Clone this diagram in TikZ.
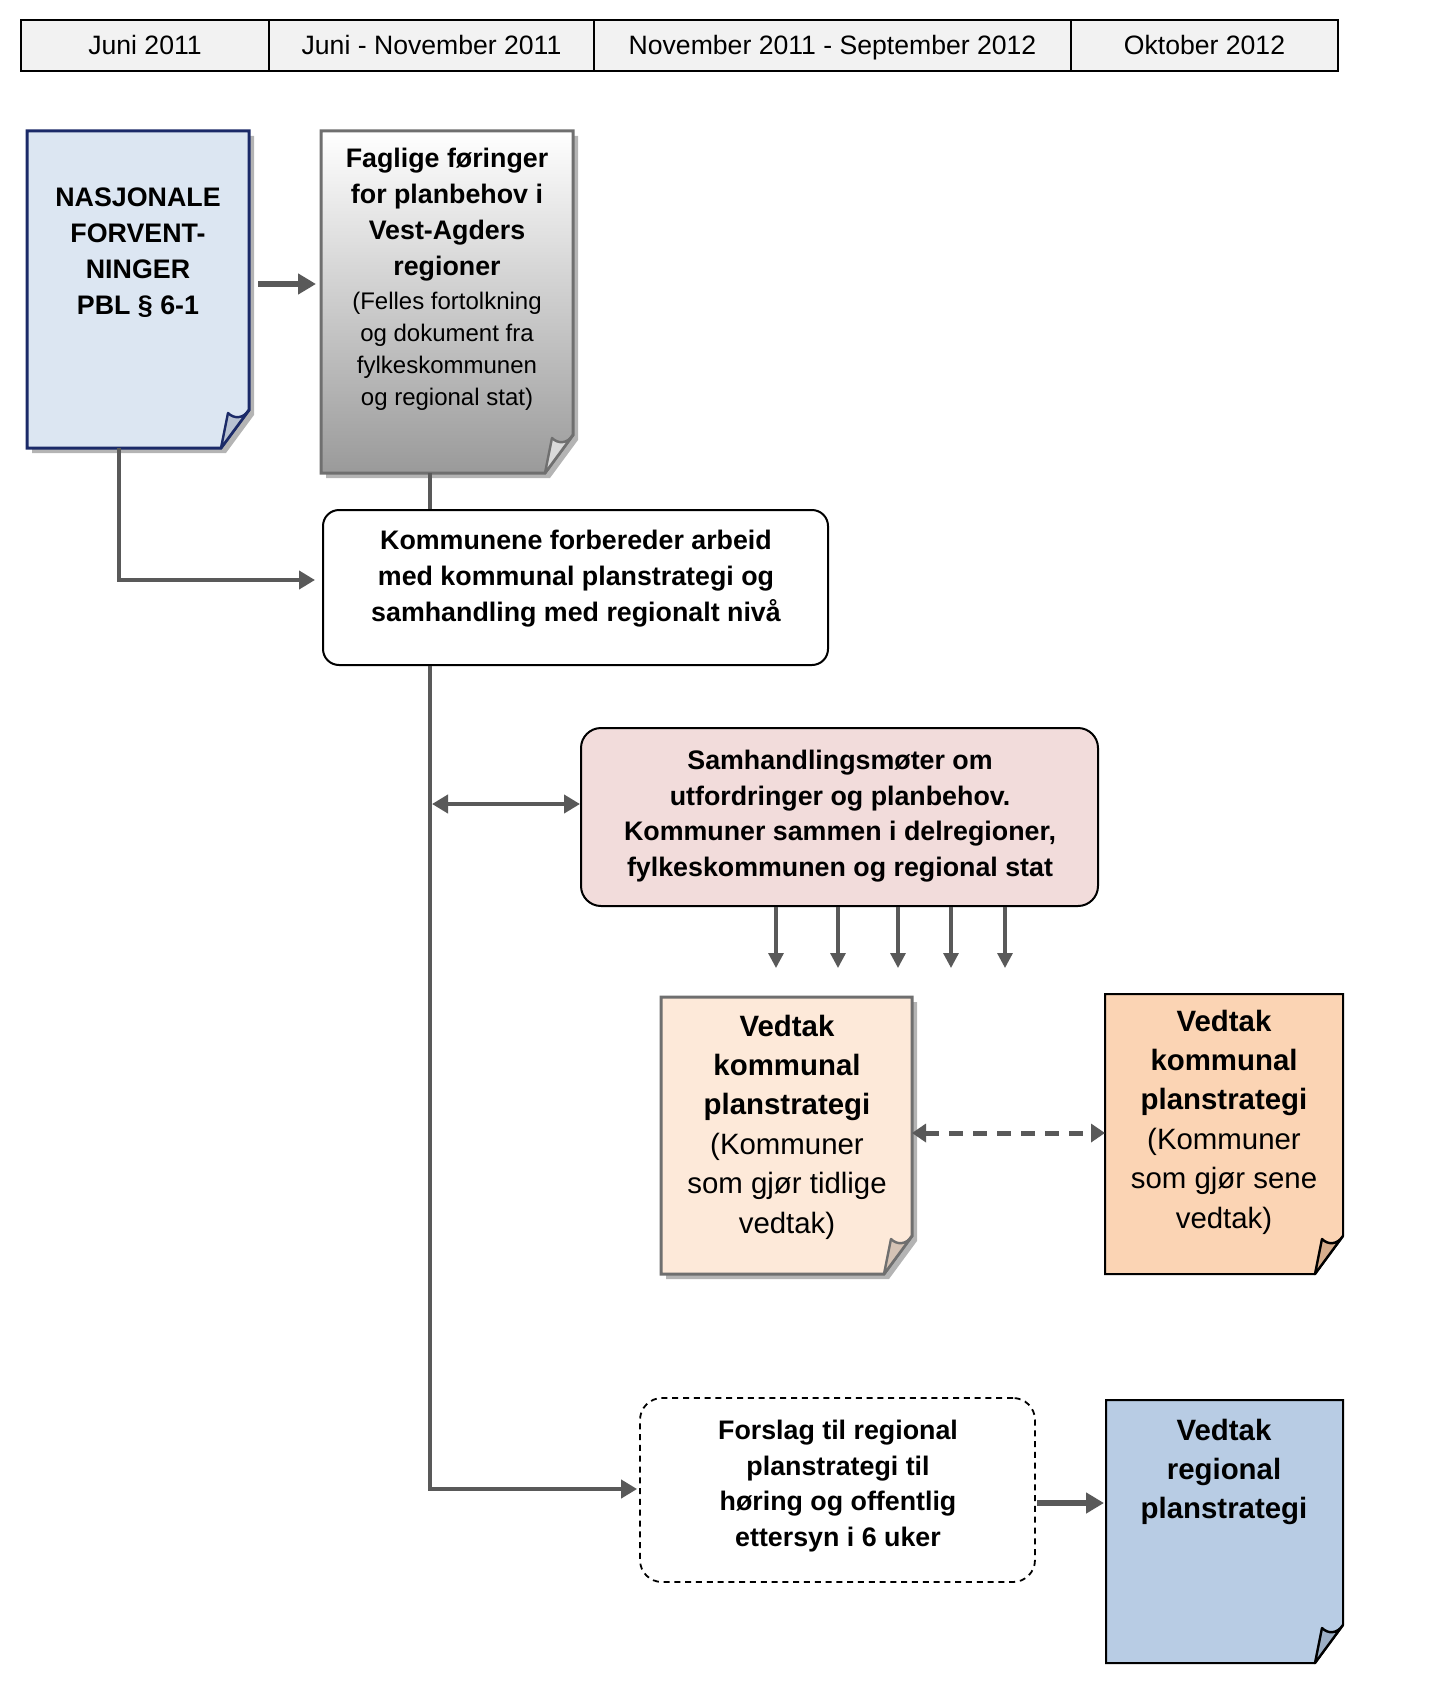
\documentclass[tikz,border=0pt]{standalone}
\usepackage{fontspec}
\setmainfont{Liberation Sans}
\usetikzlibrary{arrows.meta,calc}
\definecolor{arrc}{HTML}{595959}
\definecolor{hdrfill}{HTML}{F2F2F2}
\definecolor{nfill}{HTML}{DCE6F2}
\definecolor{ndraw}{HTML}{1B2A68}
\definecolor{nfold}{HTML}{B9C3D3}
\definecolor{gdraw}{HTML}{6F6F6F}
\definecolor{gbot}{HTML}{9A9A9A}
\definecolor{gfold}{HTML}{D9D9D9}
\definecolor{pinkfill}{HTML}{F2DCDB}
\definecolor{peach}{HTML}{FDE9D9}
\definecolor{peachfold}{HTML}{D5C3B5}
\definecolor{orfill}{HTML}{FBD4B4}
\definecolor{orfold}{HTML}{D6AD8C}
\definecolor{bluefill}{HTML}{B8CCE4}
\definecolor{bluefold}{HTML}{9CAEC4}
\definecolor{shadowc}{HTML}{B4B4B4}
\newcommand{\pageshadow}[1]{%
  \fill[shadowc] ($(#1.north west)+(5,5)$) -- ($(#1.north east)+(5,5)$) -- ($(#1.south east)+(5,-33)$) -- ($(#1.south east)+(-23,5)$) -- ($(#1.south west)+(5,5)$) -- cycle;}
\newcommand{\pagedraw}[4]{%
  \path[#2,draw=#3,line join=miter] (#1.north west) -- (#1.north east) -- ($(#1.south east)+(0,-38)$) -- ($(#1.south east)+(-28,0)$) -- (#1.south west) -- cycle;
  \path[fill=#4,draw=#3,line width=1.2pt,line join=round] ($(#1.south east)+(0,-38)$) .. controls ($(#1.south east)+(-6,-29)$) and ($(#1.south east)+(-15,-29)$) .. ($(#1.south east)+(-21,-35)$) -- ($(#1.south east)+(-28,0)$) -- cycle;}
\newcommand{\smt}{\mdseries\fontsize{12}{14}\selectfont}
\begin{document}
\begin{tikzpicture}[x=0.5pt,y=-0.5pt,
  box/.style={inner sep=0pt,outer sep=0pt,draw=none},
  txt/.style={inner sep=0pt,align=center,text=black},
  bfA/.style={font=\fontsize{13.4}{18}\selectfont\bfseries},
  bfB/.style={font=\fontsize{14.7}{19.7}\selectfont\bfseries},
  hdr/.style={draw=black,line width=0.6pt,fill=hdrfill,inner sep=0pt,minimum height=25.5pt,text height=10.4pt,text depth=1.8pt,font=\fontsize{13.3}{16}\selectfont},
  arr/.style={draw=arrc,line width=2.2pt,-{Triangle[width=9pt,length=8pt]}},
  thickarr/.style={draw=arrc,line width=3pt,-{Triangle[width=10pt,length=9pt]}},
  thinarr/.style={draw=arrc,line width=1.6pt,-{Triangle[width=7.5pt,length=7.5pt]}},
  ln/.style={draw=arrc,line width=2.2pt}]
\useasboundingbox (0,0) rectangle (1437,1702);
% header
\node[hdr,minimum width=124pt] (h1) at (145,45.5) {Juni 2011};
\node[hdr,minimum width=162.5pt] (h2) at (431.5,45.5) {Juni - November 2011};
\node[hdr,minimum width=238.5pt] (h3) at (832.5,45.5) {November 2011 - September 2012};
\node[hdr,minimum width=133.5pt] (h4) at (1204.5,45.5) {Oktober 2012};
% boxes
\node[box,minimum width=111pt,minimum height=158.5pt] (n1) at (138,289.5) {};
\node[box,minimum width=126pt,minimum height=171pt] (n2) at (447,302) {};
\node[box,minimum width=125.5pt,minimum height=138.5pt] (n5) at (786.5,1135.5) {};
\node[box,minimum width=119pt,minimum height=140pt] (n6) at (1224,1134) {};
\node[box,minimum width=118.5pt,minimum height=131.5pt] (n8) at (1224.5,1531.5) {};
\pageshadow{n1}
\pageshadow{n2}
\pageshadow{n5}
\pagedraw{n1}{fill=nfill,line width=1.5pt}{ndraw}{nfold}
\pagedraw{n2}{top color=white,bottom color=gbot,line width=1.5pt}{gdraw}{gfold}
\pagedraw{n5}{fill=peach,line width=1.5pt}{gdraw}{peachfold}
\pagedraw{n6}{fill=orfill,line width=1pt}{black}{orfold}
\pagedraw{n8}{fill=bluefill,line width=1pt}{black}{bluefold}
\node[draw=black,line width=1pt,fill=white,rounded corners=8pt,inner sep=0pt,minimum width=252.5pt,minimum height=77.5pt] (n3) at (575.5,587.5) {};
\node[draw=black,line width=1pt,fill=pinkfill,rounded corners=10pt,inner sep=0pt,minimum width=258.5pt,minimum height=89pt] (n4) at (839.5,817) {};
\node[draw=black,line width=0.9pt,dash pattern=on 3pt off 2.4pt,fill=white,rounded corners=11pt,inner sep=0pt,minimum width=197.5pt,minimum height=92pt] (n7) at (837.5,1490) {};
% texts
\node[txt,bfA] (t1) at (138,253) {NASJONALE\\FORVENT-\\NINGER\\PBL § 6-1};
\node[txt,bfA] (t2) at (447,279) {Faglige føringer\\for planbehov i\\Vest-Agders\\regioner\\[-1pt]\smt (Felles fortolkning\\[-2pt]\smt og dokument fra\\[-2pt]\smt fylkeskommunen\\[-2pt]\smt og regional stat)};
\node[txt,bfA] (t3) at (576,579) {Kommunene forbereder arbeid\\med kommunal planstrategi og\\samhandling med regionalt nivå};
\node[txt,font=\fontsize{13.4}{17.8}\selectfont\bfseries] (t4) at (840,816) {Samhandlingsmøter om\\utfordringer og planbehov.\\Kommuner sammen i delregioner,\\fylkeskommunen og regional stat};
\node[txt,bfB] (t5) at (787,1127) {Vedtak\\kommunal\\planstrategi\\\mdseries (Kommuner\\\mdseries som gjør tidlige\\\mdseries vedtak)};
\node[txt,bfB] (t6) at (1224,1122) {Vedtak\\kommunal\\planstrategi\\\mdseries (Kommuner\\\mdseries som gjør sene\\\mdseries vedtak)};
\node[txt,font=\fontsize{13.4}{17.8}\selectfont\bfseries] (t7) at (838,1486) {Forslag til regional\\planstrategi til\\høring og offentlig\\ettersyn i 6 uker};
\node[txt,bfB] (t8) at (1224,1472) {Vedtak\\regional\\planstrategi};
% connectors
\coordinate (spine) at (430,0);
\draw[thickarr] ($(n1.north east)+(9,153)$) -- ($(n2.north west)+(-5,153)$);
\draw[arr] ($(n1.south west)+(92,0)$) |- ($(n3.west)+(-7,-7.5)$);
\draw[ln] (n2.south -| spine) -- (n3.north -| spine);
\draw[arr] (n3.south -| spine) |- ($(n7.west)+(-2,-1)$);
\coordinate (n4dbl) at ($(n4.west)+(0,-13)$);
\draw[draw=arrc,line width=2.4pt,{Triangle[width=9pt,length=8pt]}-{Triangle[width=9pt,length=8pt]}] ([xshift=1pt]spine |- n4dbl) -- (n4dbl);
\foreach \xx in {776,838,898,951,1005}{
  \coordinate (e\xx) at (\xx,968);
  \draw[thinarr] (n4.south -| e\xx) -- (e\xx);
}
\draw[draw=arrc,line width=2.5pt,dash pattern=on 7pt off 5pt,{Triangle[width=9pt,length=7pt]}-{Triangle[width=9pt,length=7pt]}] ($(n5.east)+(0,-2.5)$) -- ($(n6.west)+(0,-1)$);
\draw[thickarr] ($(n7.east)+(1,13)$) -- ($(n8.west)+(-2,-28.5)$);
\end{tikzpicture}
\end{document}
